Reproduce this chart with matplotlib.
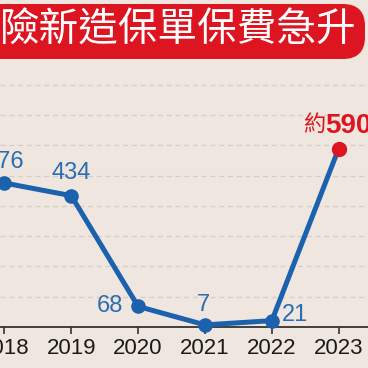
import matplotlib
matplotlib.use('Agg')
import matplotlib.pyplot as plt
from matplotlib import font_manager
from matplotlib.patches import FancyBboxPatch

# data
years = [2018, 2019, 2020, 2021, 2022, 2023]
premiums = [476, 434, 68, 7, 21, 590]
labels = ['476', '434', '68', '7', '21', '590']
title_text = '險新造保單保費急升'

bg = '#efe7df'
blue = '#1c61ad'
label_blue = '#2a6db3'
red = '#dd1520'

# narrow font for the year labels if we have one
installed = {f.name for f in font_manager.fontManager.ttflist}
if 'Liberation Sans Narrow' in installed:
    year_font, year_size = 'Liberation Sans Narrow', 18
else:
    year_font, year_size = 'Liberation Sans', 16

fig = plt.figure(figsize=(3.68, 3.68), dpi=100, facecolor=bg)
ax = fig.add_axes([0, 41 / 368, 1, (327 - 65) / 368])
ax.set_facecolor(bg)

ax.set_xlim(2018 - 4.5 / 68.5, 2023 + 30 / 68.5)
ax.set_ylim(0, 866)

ax.set_yticks(range(100, 900, 100))
ax.yaxis.grid(True, linestyle=(0, (4, 3)), color='#d6cdc4', linewidth=0.9)
ax.tick_params(axis='y', left=False, labelleft=False)
ax.set_axisbelow(True)

for s in ['top', 'right', 'left']:
    ax.spines[s].set_visible(False)
ax.spines['bottom'].set_color('#333333')
ax.spines['bottom'].set_linewidth(1.3)

ax.set_xticks(years)
ax.set_xticklabels([str(y) for y in years])
ax.tick_params(axis='x', direction='out', length=5, width=1.2, color='#333333',
               pad=3, labelsize=year_size, labelcolor='#1a1a1a')
for t in ax.get_xticklabels():
    t.set_fontfamily([year_font, 'DejaVu Sans'])

# line + markers
ax.plot(years, premiums, color=blue, linewidth=3.6, solid_capstyle='round',
        zorder=3, clip_on=False)
ax.plot(years[:-1], premiums[:-1], 'o', color=blue, markersize=9.5, zorder=4, clip_on=False)
ax.plot(years[-1], premiums[-1], 'o', color=red, markersize=10, zorder=4, clip_on=False)

# value labels
offsets = [(0, 15), (0, 16), (-20, 0), (-1, 14), (17, 4)]
for x, y, lab, off in zip(years[:-1], premiums[:-1], labels[:-1], offsets):
    ax.annotate(lab, (x, y), textcoords='offset points', xytext=off,
                ha='center', va='center', fontsize=17, color=label_blue,
                family=['Liberation Sans', 'DejaVu Sans'], annotation_clip=False)

ax.annotate('約', (years[-1], premiums[-1]), textcoords='offset points', xytext=(-9.5, 17),
            ha='right', va='center', fontsize=16, color=red,
            family=['Noto Sans CJK TC', 'DejaVu Sans'], annotation_clip=False)
ax.annotate(labels[-1], (years[-1], premiums[-1]), textcoords='offset points', xytext=(-9.5, 16.5),
            ha='left', va='center', fontsize=20, color=red, fontweight='bold',
            family=['Liberation Sans', 'DejaVu Sans'], annotation_clip=False)

# title banner
box = FancyBboxPatch((-0.2, 1 - 59 / 368), 0.2 + 365 / 368, 55 / 368,
                     boxstyle='round,pad=0,rounding_size=0.06',
                     transform=fig.transFigure, facecolor=red, edgecolor='none')
fig.patches.append(box)
fig.text(0.0, 1 - 31 / 368, title_text, ha='left', va='center', fontsize=28.5,
         color='white', fontweight='light', family=['Noto Sans CJK TC', 'DejaVu Sans'])

fig.savefig('out.png', dpi=100, facecolor=bg)
